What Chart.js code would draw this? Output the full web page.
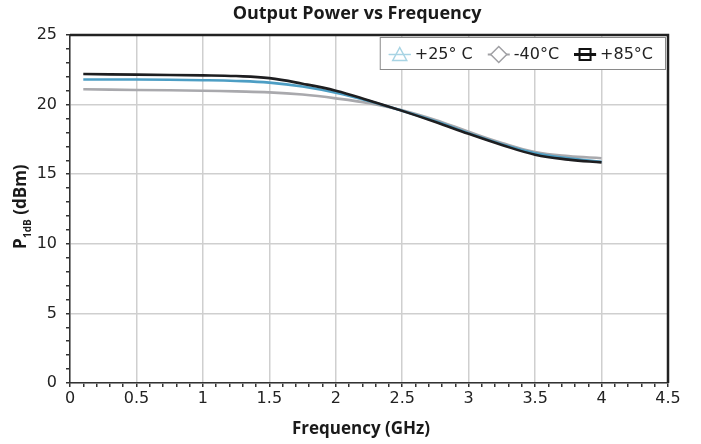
<!DOCTYPE html>
<html>
<head>
<meta charset="utf-8">
<script src="https://cdn.jsdelivr.net/npm/chart.js@4.4.1/dist/chart.umd.min.js"></script>
<style>
  html, body { margin:0; padding:0; background:#fff; }
  #wrap { width:701px; height:444px; }
</style>
</head>
<body>
<div id="wrap"><canvas id="chart-p1db" width="701" height="444"></canvas></div>
<script>
// Output Power vs Frequency — P1dB over temperature

const FREQ_GHZ  = [0.1, 0.5, 1.0, 1.25, 1.5, 1.75, 2.0, 2.25, 2.5, 2.75, 3.0, 3.25, 3.5, 3.75, 4.0];
const P1DB_25C  = [21.8, 21.8, 21.75, 21.7, 21.58, 21.3, 20.85, 20.25, 19.55, 18.8, 17.95, 17.15, 16.5, 16.15, 15.9];
const P1DB_M40C = [21.1, 21.05, 21.0, 20.95, 20.88, 20.72, 20.45, 20.1, 19.6, 18.9, 18.05, 17.25, 16.6, 16.3, 16.15];
const P1DB_85C  = [22.2, 22.15, 22.1, 22.05, 21.9, 21.5, 21.0, 20.3, 19.55, 18.75, 17.9, 17.1, 16.4, 16.05, 15.85];

const SERIES_LABELS = ['+25° C', '-40°C', '+85°C'];
const X_TICK_LABELS = [0, 0.5, 1, 1.5, 2, 2.5, 3, 3.5, 4, 4.5];
const Y_TICK_LABELS = [0, 5, 10, 15, 20, 25];

const TITLE = 'Output Power vs Frequency';
const X_TITLE = 'Frequency (GHz)';

const C25 = '#4d9ec4', CM40 = '#a9a9ad', C85 = '#1e1e20';
const FONT = "'DejaVu Sans', sans-serif";
const BOLD = "'Open Sans', sans-serif";

const pts = ys => FREQ_GHZ.map((x, i) => ({ x, y: ys[i] }));
const isLabelX = v => X_TICK_LABELS.some(t => Math.abs(t - v) < 1e-6);
const isLabelY = v => Y_TICK_LABELS.some(t => Math.abs(t - v) < 1e-6);

// frame, titles and the boxed legend
const decor = {
  id:'decor',
  afterDraw(chart){
    const { ctx, chartArea:a } = chart;
    ctx.save();
    ctx.strokeStyle = '#222'; ctx.lineWidth = 2.5;
    ctx.beginPath();
    ctx.moveTo(a.left, a.top); ctx.lineTo(a.right, a.top); ctx.lineTo(a.right, a.bottom);
    ctx.stroke();

    ctx.fillStyle = '#1a1a1a';
    ctx.textAlign = 'center'; ctx.textBaseline = 'middle';
    ctx.font = `bold 18px ${BOLD}`;
    ctx.fillText(TITLE, 357, 14);
    ctx.font = `bold 17px ${BOLD}`;
    ctx.fillText(X_TITLE, 361, 429);

    // y title with subscript
    ctx.save();
    ctx.translate(21, 207);
    ctx.rotate(-Math.PI / 2);
    ctx.textAlign = 'left'; ctx.textBaseline = 'alphabetic';
    const big = `bold 17px ${BOLD}`, small = `bold 10px ${BOLD}`;
    ctx.font = big;  const wP = ctx.measureText('P').width;
    ctx.font = small; const wS = ctx.measureText('1dB').width;
    ctx.font = big;  const wR = ctx.measureText(' (dBm)').width;
    let x = -(wP + wS + wR) / 2;
    ctx.font = big; ctx.fillText('P', x, 5); x += wP + 0.5;
    ctx.font = small; ctx.fillText('1dB', x, 10); x += wS;
    ctx.font = big; ctx.fillText(' (dBm)', x, 5);
    ctx.restore();

    // legend, in label order
    const ds = SERIES_LABELS.map(l => chart.data.datasets.find(d => d.label === l));
    ctx.font = `16px ${FONT}`;
    const widths = ds.map(d => ctx.measureText(d.label).width);
    const entryW = widths.map(w => 15 + w + 26);
    const boxW = 20 + entryW.reduce((s, w) => s + w, 0) - 26 + 13;
    const bx = a.right - 2 - boxW, by = a.top + 2, bh = 33;
    ctx.fillStyle = '#fff'; ctx.fillRect(bx, by, boxW, bh);
    ctx.strokeStyle = '#8a8a8a'; ctx.lineWidth = 1;
    ctx.strokeRect(bx + 0.5, by + 0.5, boxW - 1, bh - 1);
    let cx = bx + 20;
    const cy = by + bh / 2 + 1;
    ds.forEach((d, i) => {
      ctx.strokeStyle = d.legendColor; ctx.fillStyle = '#fff';
      ctx.lineWidth = d.legendLine;
      ctx.beginPath(); ctx.moveTo(cx - 11, cy); ctx.lineTo(cx + 11, cy); ctx.stroke();
      ctx.lineWidth = d.legendLine > 2 ? 2 : 1.5;
      ctx.beginPath();
      if (d.legendShape === 'triangle'){
        ctx.moveTo(cx, cy - 7); ctx.lineTo(cx + 7, cy + 6); ctx.lineTo(cx - 7, cy + 6); ctx.closePath();
        ctx.stroke();
        ctx.beginPath(); ctx.moveTo(cx - 11, cy); ctx.lineTo(cx + 11, cy); ctx.stroke();
      } else if (d.legendShape === 'diamond'){
        ctx.moveTo(cx, cy - 8); ctx.lineTo(cx + 8, cy); ctx.lineTo(cx, cy + 8); ctx.lineTo(cx - 8, cy); ctx.closePath();
        ctx.fill(); ctx.stroke();
      } else {
        ctx.rect(cx - 5.5, cy - 5.5, 11, 11); ctx.fill(); ctx.stroke();
        ctx.lineWidth = d.legendLine;
        ctx.beginPath(); ctx.moveTo(cx - 11, cy); ctx.lineTo(cx + 11, cy); ctx.stroke();
      }
      ctx.fillStyle = '#222'; ctx.textAlign = 'left'; ctx.textBaseline = 'middle';
      ctx.fillText(d.label, cx + 15, cy);
      cx += entryW[i];
    });
    ctx.restore();
  }
};

new Chart(document.getElementById('chart-p1db'), {
  type:'line',
  data:{
    datasets:[
      { label:SERIES_LABELS[1], data:pts(P1DB_M40C), borderColor:CM40, legendColor:'#a0a0a4', legendShape:'diamond', legendLine:2, order:3 },
      { label:SERIES_LABELS[0], data:pts(P1DB_25C), borderColor:C25, legendColor:'#a8d4e4', legendShape:'triangle', legendLine:1, order:2 },
      { label:SERIES_LABELS[2], data:pts(P1DB_85C), borderColor:C85, legendColor:'#111', legendShape:'square', legendLine:3, order:1 },
    ].map(d => Object.assign({ borderWidth:2.6, pointRadius:0, fill:false, tension:0.4 }, d))
  },
  options:{
    responsive:false, animation:false,
    layout:{ padding:{ left:30, right:33, top:35, bottom:0 } },
    plugins:{ legend:{ display:false }, tooltip:{ enabled:false } },
    scales:{
      x:{
        type:'linear', min:0, max:4.5,
        ticks:{ stepSize:0.1, autoSkip:false, maxRotation:0, padding:2, color:'#222',
          font:{ family:FONT, size:16 },
          callback: v => isLabelX(v) ? String(Math.round(v * 10) / 10) : '' },
        grid:{ color: c => isLabelX(c.tick.value) ? '#cfcfcf' : 'rgba(0,0,0,0)',
          tickColor:'#333', tickLength:4, lineWidth:1.5 },
        border:{ color:'#333', width:1.5 },
        afterFit: s => { s.height = 61; }
      },
      y:{
        min:0, max:25,
        ticks:{ stepSize:1, autoSkip:false, padding:9, color:'#222',
          font:{ family:FONT, size:16 },
          callback: v => isLabelY(v) ? String(v) : '' },
        grid:{ color: c => isLabelY(c.tick.value) ? '#cfcfcf' : 'rgba(0,0,0,0)',
          tickColor:'#333', tickLength:4, lineWidth:1.5 },
        border:{ color:'#333', width:1.5 },
        afterFit: s => { s.width = 40; }
      }
    }
  },
  plugins:[decor]
});
</script>
</body>
</html>
